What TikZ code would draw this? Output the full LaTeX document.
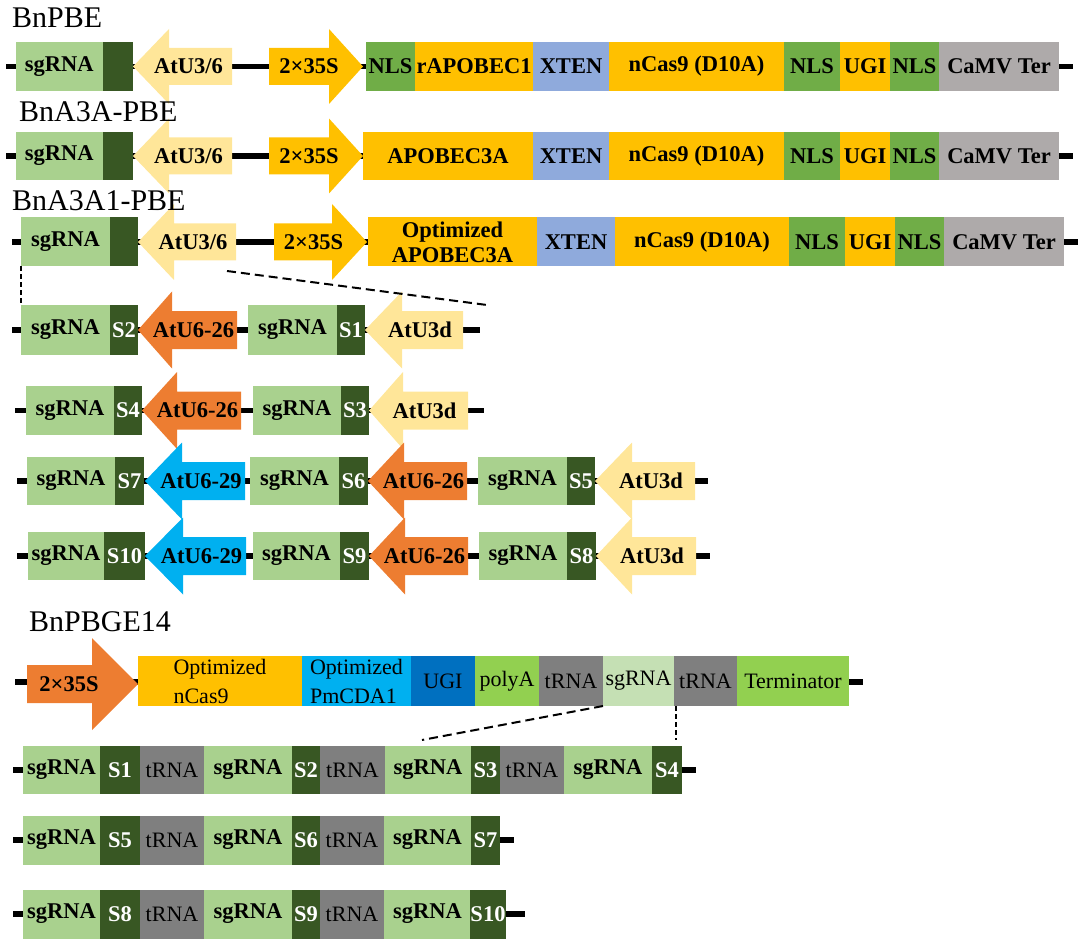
\documentclass[tikz,border=0pt]{standalone}
\usepackage{fontspec}
\setmainfont{Liberation Serif}
\usetikzlibrary{calc}
\definecolor{sg}{HTML}{A9D18E}
\definecolor{dg}{HTML}{385723}
\definecolor{py}{HTML}{FFE699}
\definecolor{gy}{HTML}{FFC000}
\definecolor{nls}{HTML}{70AD47}
\definecolor{xt}{HTML}{8FAADC}
\definecolor{cv}{HTML}{AEAAAA}
\definecolor{orng}{HTML}{ED7D31}
\definecolor{sky}{HTML}{00B0F0}
\definecolor{dblue}{HTML}{0070C0}
\definecolor{lg}{HTML}{92D050}
\definecolor{tr}{HTML}{7F7F7F}
\definecolor{psg}{HTML}{C5E0B4}
\tikzset{
  dna/.style={line width=5.5pt, black},
  cell/.style={inner sep=0pt, outer sep=0pt, align=center, font=\bfseries\fontsize{22.5}{27}\selectfont, text=black},
  lbl/.style={inner sep=0pt, font=\bfseries\fontsize{22.5}{27}\selectfont},
  rg/.style={font=\fontsize{22}{29}\selectfont},
  ttl/.style={inner sep=0pt, anchor=base west, font=\fontsize{30}{34}\selectfont},
  dsh/.style={line width=2pt, dash pattern=on 9pt off 5pt},
  dshv/.style={line width=1.8pt, dash pattern=on 5pt off 3pt},
}
% name, x1, x2, yc, height, fill colour (+ options), text
\newcommand\Cell[7]{\node[cell, minimum width={(#3-#2)*1pt}, minimum height={#5*1pt}, fill=#6] (#1) at ({(#2+#3)/2},#4) {#7};}
% S-label cell: name, x1, x2, yc, height, text
\newcommand\SCell[6]{\node[cell, minimum width={(#3-#2)*1pt}, minimum height={#5*1pt}, fill=dg, text=white] (#1) at ({(#2+#3)/2},#4) {#6};}
% left-pointing arrow: name, tip, headbase, end, yc, fill, text
\newcommand\LArr[7]{\fill[#6] (#2,#5) -- (#3,#5-\ArrH) -- (#3,#5-\ArrB) -- (#4,#5-\ArrB) -- (#4,#5+\ArrB) -- (#3,#5+\ArrB) -- (#3,#5+\ArrH) -- cycle;
  \node[lbl] (#1) at ({(#2+#4)/2+6},#5) {#7};}
% right-pointing arrow: name, tail, headbase, tip, yc, fill, text
\newcommand\RArr[7]{\fill[#6] (#4,#5) -- (#3,#5-\ArrH) -- (#3,#5-\ArrB) -- (#2,#5-\ArrB) -- (#2,#5+\ArrB) -- (#3,#5+\ArrB) -- (#3,#5+\ArrH) -- cycle;
  \node[lbl] (#1) at ({(#2+#4)/2-7},#5) {#7};}
\def\ArrB{18.5}
\def\ArrH{37.5}
\begin{document}
\begin{tikzpicture}[x=1pt,y=-1pt]
\useasboundingbox (0,0) rectangle (1084,941);
% ---------- backbone lines ----------
\coordinate (a1) at (6,66.5);   \coordinate (b1) at (1073,66.5);
\coordinate (a2) at (6,156);    \coordinate (b2) at (1073,156);
\coordinate (a3) at (12,242);   \coordinate (b3) at (1078,242);
\coordinate (a4) at (12,330);   \coordinate (b4) at (480,330);
\coordinate (a5) at (15,410.5); \coordinate (b5) at (484,410.5);
\coordinate (a6) at (17,481);   \coordinate (b6) at (708,481);
\coordinate (a7) at (17,556);   \coordinate (b7) at (710,556);
\coordinate (a8) at (15,682);   \coordinate (b8) at (863,682);
\coordinate (a9) at (13,770);   \coordinate (b9) at (696,770);
\coordinate (a10) at (13,840);  \coordinate (b10) at (514,840);
\coordinate (a11) at (13,914);  \coordinate (b11) at (525,914);
\foreach \i in {1,...,11} {\draw[dna] (a\i) -- (b\i);}

% ---------- Row 1 BnPBE ----------
\Cell{r1sg}{15.5}{103}{66.5}{49}{sg}{sgRNA}
\Cell{r1s}{103}{133}{66.5}{49}{dg}{}
\LArr{r1u}{133}{169}{232}{66.5}{py}{AtU3/6}
\RArr{r1p}{269}{329}{363}{66.5}{gy}{2×35S}
\Cell{r1n1}{366}{415}{66.5}{49}{nls}{NLS}
\Cell{r1ap}{415}{533}{66.5}{49}{gy}{rAPOBEC1}
\Cell{r1x}{533}{609}{66.5}{49}{xt}{XTEN}
\Cell{r1c}{609}{784}{66.5}{49}{gy}{nCas9 (D10A)}
\Cell{r1n2}{784}{840}{66.5}{49}{nls}{NLS}
\Cell{r1g}{840}{890}{66.5}{49}{gy}{UGI}
\Cell{r1n3}{890}{939}{66.5}{49}{nls}{NLS}
\Cell{r1t}{939}{1059}{66.5}{49}{cv}{CaMV Ter}

% ---------- Row 2 BnA3A-PBE ----------
\Cell{r2sg}{15.5}{103}{156}{48}{sg}{sgRNA}
\Cell{r2s}{103}{133}{156}{48}{dg}{}
\LArr{r2u}{133}{169}{232}{156}{py}{AtU3/6}
\RArr{r2p}{269}{329}{363}{156}{gy}{2×35S}
\Cell{r2ap}{363}{533}{156}{48}{gy}{APOBEC3A}
\Cell{r2x}{533}{609}{156}{48}{xt}{XTEN}
\Cell{r2c}{609}{784}{156}{48}{gy}{nCas9 (D10A)}
\Cell{r2n2}{784}{840}{156}{48}{nls}{NLS}
\Cell{r2g}{840}{890}{156}{48}{gy}{UGI}
\Cell{r2n3}{890}{939}{156}{48}{nls}{NLS}
\Cell{r2t}{939}{1059}{156}{48}{cv}{CaMV Ter}

% ---------- Row 3 BnA3A1-PBE ----------
\def\ArrH{38}
\Cell{r3sg}{21}{110}{242}{49}{sg}{sgRNA}
\Cell{r3s}{110}{138}{242}{49}{dg}{}
\LArr{r3u}{138}{174}{236}{242}{py}{AtU3/6}
\RArr{r3p}{274}{332}{367}{242}{gy}{2×35S}
\Cell{r3ap}{368}{537}{242}{49}{gy}{Optimized\\[-2pt]APOBEC3A}
\Cell{r3x}{537}{615}{242}{49}{xt}{XTEN}
\Cell{r3c}{615}{789}{242}{49}{gy}{nCas9 (D10A)}
\Cell{r3n2}{789}{845}{242}{49}{nls}{NLS}
\Cell{r3g}{845}{895}{242}{49}{gy}{UGI}
\Cell{r3n3}{895}{944}{242}{49}{nls}{NLS}
\Cell{r3t}{944}{1064}{242}{49}{cv}{CaMV Ter}

% ---------- Rows 4-7 ----------
\def\ArrB{19}
\def\ArrH{38.5}
\Cell{r4sga}{21}{110}{330}{49}{sg}{sgRNA}
\SCell{r4sa}{110}{138}{330}{49}{S2}
\LArr{r4u6}{138}{172}{237}{330}{orng}{AtU6-26}
\Cell{r4sgb}{248}{337}{330}{49}{sg}{sgRNA}
\SCell{r4sb}{337}{365}{330}{49}{S1}
\LArr{r4u3}{365}{402}{463}{330}{py}{AtU3d}

\Cell{r5sga}{26}{114}{410.5}{49}{sg}{sgRNA}
\SCell{r5sa}{114}{142}{410.5}{49}{S4}
\LArr{r5u6}{142}{177}{241}{410.5}{orng}{AtU6-26}
\Cell{r5sgb}{253}{341}{410.5}{49}{sg}{sgRNA}
\SCell{r5sb}{341}{369}{410.5}{49}{S3}
\LArr{r5u3}{369}{403}{468}{410.5}{py}{AtU3d}

\Cell{r6sga}{27}{115}{481}{48}{sg}{sgRNA}
\SCell{r6sa}{115}{144}{481}{48}{S7}
\LArr{r6u9}{145}{182}{245}{481}{sky}{AtU6-29}
\Cell{r6sgb}{250}{339}{481}{48}{sg}{sgRNA}
\SCell{r6sb}{339}{368}{481}{48}{S6}
\LArr{r6u6}{368}{404}{467}{481}{orng}{AtU6-26}
\Cell{r6sgc}{478}{567}{481}{48}{sg}{sgRNA}
\SCell{r6sc}{567}{595}{481}{48}{S5}
\LArr{r6u3}{595}{632}{695}{481}{py}{AtU3d}

\Cell{r7sga}{28}{104}{556}{48}{sg}{sgRNA}
\SCell{r7sa}{104}{145}{556}{48}{S10}
\LArr{r7u9}{145}{183}{246}{556}{sky}{AtU6-29}
\Cell{r7sgb}{253}{340}{556}{48}{sg}{sgRNA}
\SCell{r7sb}{340}{369}{556}{48}{S9}
\LArr{r7u6}{369}{405}{468}{556}{orng}{AtU6-26}
\Cell{r7sgc}{479}{567}{556}{48}{sg}{sgRNA}
\SCell{r7sc}{567}{596}{556}{48}{S8}
\LArr{r7u3}{596}{632}{696}{556}{py}{AtU3d}

% ---------- Row 8 BnPBGE14 ----------
\fill[orng] (138,684) -- (92,638) -- (92,665) -- (27,665) -- (27,703) -- (92,703) -- (92,730) -- cycle;
\node[lbl] (r8p) at (69,684) {2×35S};
\Cell{r8c}{138}{302}{681}{50}{gy, rg, align=left}{Optimized\\nCas9}
\Cell{r8pm}{302}{411}{681}{50}{sky, rg, align=left}{Optimized\\PmCDA1}
\Cell{r8g}{411}{475}{681}{50}{dblue, rg}{UGI}
\Cell{r8pa}{475}{539}{681}{50}{lg, rg}{polyA}
\Cell{r8t1}{539}{603}{681}{50}{tr, rg}{tRNA}
\Cell{r8sg}{603}{674}{681}{50}{psg, rg}{sgRNA}
\Cell{r8t2}{674}{737}{681}{50}{tr, rg}{tRNA}
\Cell{r8te}{737}{849}{681}{50}{lg, rg}{Terminator}

% ---------- Rows 9-11 ----------
\Cell{r9sga}{23}{100}{770}{48}{sg}{sgRNA}
\SCell{r9sa}{100}{140}{770}{48}{S1}
\Cell{r9ta}{140}{204}{770}{48}{tr, rg}{tRNA}
\Cell{r9sgb}{204}{292}{770}{48}{sg}{sgRNA}
\SCell{r9sb}{292}{320}{770}{48}{S2}
\Cell{r9tb}{320}{385}{770}{48}{tr, rg}{tRNA}
\Cell{r9sgc}{385}{471}{770}{48}{sg}{sgRNA}
\SCell{r9sc}{471}{500}{770}{48}{S3}
\Cell{r9tc}{500}{564}{770}{48}{tr, rg}{tRNA}
\Cell{r9sgd}{564}{652}{770}{48}{sg}{sgRNA}
\SCell{r9sd}{652}{682}{770}{48}{S4}

\Cell{r10sga}{23}{100}{840}{49}{sg}{sgRNA}
\SCell{r10sa}{100}{140}{840}{49}{S5}
\Cell{r10ta}{140}{204}{840}{49}{tr, rg}{tRNA}
\Cell{r10sgb}{204}{292}{840}{49}{sg}{sgRNA}
\SCell{r10sb}{292}{320}{840}{49}{S6}
\Cell{r10tb}{320}{384}{840}{49}{tr, rg}{tRNA}
\Cell{r10sgc}{384}{471}{840}{49}{sg}{sgRNA}
\SCell{r10sc}{471}{500}{840}{49}{S7}

\Cell{r11sga}{23}{100}{914}{49}{sg}{sgRNA}
\SCell{r11sa}{100}{140}{914}{49}{S8}
\Cell{r11ta}{140}{204}{914}{49}{tr, rg}{tRNA}
\Cell{r11sgb}{204}{292}{914}{49}{sg}{sgRNA}
\SCell{r11sb}{292}{320}{914}{49}{S9}
\Cell{r11tb}{320}{384}{914}{49}{tr, rg}{tRNA}
\Cell{r11sgc}{384}{471}{914}{49}{sg}{sgRNA}
\SCell{r11sc}{471}{505}{914}{49}{S10}

% ---------- dashed zoom lines ----------
\coordinate (d1a) at (227,271);
\coordinate (d1b) at (487,305);
\draw[dshv] (r3sg.south west) -- (r4sga.north west);
\draw[dsh] (d1a) -- (d1b);
\coordinate (d2b) at (422,740);
\coordinate (d3a) at (676,706);
\coordinate (d3b) at (676,740);
\draw[dsh] (r8sg.south west) -- (d2b);
\draw[dshv] (d3a) -- (d3b);

% ---------- titles ----------
\node[ttl] (t1) at (12,28) {BnPBE};
\node[ttl] (t2) at (19,122) {BnA3A-PBE};
\node[ttl] (t3) at (12,211) {BnA3A1-PBE};
\node[ttl] (t4) at (29,631) {BnPBGE14};
\end{tikzpicture}
\end{document}
